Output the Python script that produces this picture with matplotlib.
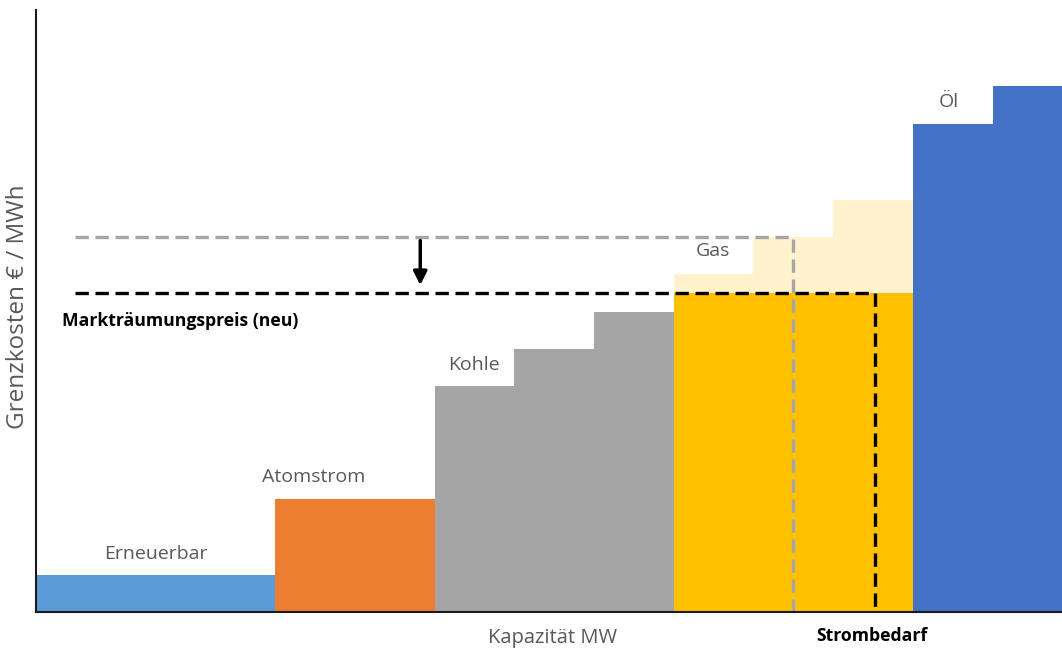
import matplotlib.pyplot as plt
import numpy as np

plt.rcParams['font.family'] = ['Open Sans', 'DejaVu Sans']

# Merit-Order: Kapazität (Blockbreite) und Grenzkosten je Kraftwerksblock
sources = ['Erneuerbar', 'Atomstrom', 'Kohle', 'Kohle', 'Kohle',
           'Gas', 'Gas', 'Gas', 'Öl', 'Öl']
widths = [3, 2, 1, 1, 1, 1, 1, 1, 1, 1]
costs_old = [6.1, 18.8, 37.5, 43.7, 49.8, 56.1, 62.3, 68.4, 81.1, 87.4]
gas_new = 53.0          # Gas-Grenzkosten nach Preissenkung
price_old = 62.3        # alter Markträumungspreis
price_new = 53.0        # neuer Markträumungspreis
demand_old = 9.5        # Strombedarf (alt)
demand_new = 10.53      # Strombedarf (neu)

colors = {'Erneuerbar': '#5B9BD5', 'Atomstrom': '#ED7D31', 'Kohle': '#A5A5A5',
          'Gas': '#FFF2CC', 'Öl': '#4472C4'}
text_grey = '#595959'

lefts = np.concatenate([[0], np.cumsum(widths)[:-1]])

fig = plt.figure(figsize=(10.62, 6.49), dpi=100)
ax = fig.add_axes([36 / 1062, 37 / 649, 1026 / 1062, 602 / 649])

ax.bar(lefts, costs_old, width=widths, align='edge',
       color=[colors[s] for s in sources], linewidth=0)

# neue (niedrigere) Gaskosten
gas_idx = [i for i, s in enumerate(sources) if s == 'Gas']
gas_left = lefts[gas_idx[0]]
gas_width = sum(widths[i] for i in gas_idx)
ax.bar(gas_left, gas_new, width=gas_width, align='edge', color='#FFC000', linewidth=0)

# Markträumungspreis alt (grau) und neu (schwarz)
ax.plot([0.49, demand_old, demand_old], [price_old, price_old, 0],
        color='#A6A6A6', lw=2.4, dashes=(4, 2), solid_capstyle='butt')
ax.plot([0.49, demand_new, demand_new], [price_new, price_new, 0],
        color='black', lw=2.4, dashes=(4, 2), solid_capstyle='butt')

ax.annotate('', xy=(4.82, 54.3), xytext=(4.82, 61.7),
            arrowprops=dict(arrowstyle='-|>,head_width=0.4,head_length=0.8',
                            color='black', lw=2.5, shrinkA=0, shrinkB=0))

lab = dict(color=text_grey, fontsize=14, va='center', ha='left')
ax.text(0.86, 9.6, 'Erneuerbar', **lab)
ax.text(2.84, 22.4, 'Atomstrom', **lab)
ax.text(5.17, 41.0, 'Kohle', **lab)
ax.text(8.27, 59.9, 'Gas', **lab)
ax.text(11.32, 84.7, 'Öl', **lab)
ax.text(0.32, 48.3, 'Markträumungspreis (neu)', fontsize=12.7, fontweight='bold',
        va='center', ha='left', color='black')

ax.set_xlim(0, 12.87)
ax.set_ylim(0, 100)
ax.set_xticks([])
ax.set_yticks([])
for s in ['top', 'right']:
    ax.spines[s].set_visible(False)
for s in ['left', 'bottom']:
    ax.spines[s].set_linewidth(1.5)
    ax.spines[s].set_color('#1a1a1a')

fig.text(18 / 1062, 1 - 307 / 649, 'Grenzkosten € / MWh', rotation=90,
         color=text_grey, fontsize=17.5, ha='center', va='center')
fig.text(553 / 1062, 1 - 638 / 649, 'Kapazität MW', color=text_grey,
         fontsize=14.5, ha='center', va='center')
fig.text(872 / 1062, 1 - 636 / 649, 'Strombedarf', color='black',
         fontsize=12.7, fontweight='bold', ha='center', va='center')

fig.savefig('out.png', dpi=100)
